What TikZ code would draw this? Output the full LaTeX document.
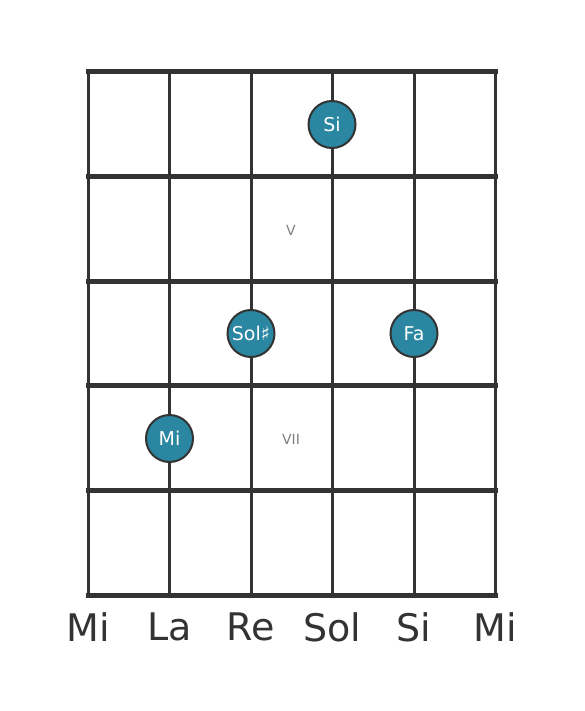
\documentclass[tikz,border=0pt]{standalone}
\usepackage{fontspec}
\setmainfont{DejaVu Sans}
\usepackage{xcolor}
\usetikzlibrary{positioning, calc}

\definecolor{wire}{HTML}{333333}
\definecolor{dotfill}{HTML}{2B86A1}
\definecolor{fretmark}{HTML}{808080}

\tikzset{
    string/.style={draw=wire, line width=3pt},
    fret/.style={draw=wire, line width=5pt},
    notedot/.style={circle, draw=wire, line width=2pt, fill=dotfill, minimum size=47pt, inner sep=0pt,
        text=white, font=\fontsize{19}{19}\selectfont},
    fretnum/.style={text=fretmark, font=\fontsize{14}{14}\selectfont},
    stringname/.style={text=wire, font=\fontsize{38}{38}\selectfont}
}

\begin{document}
\begin{tikzpicture}[x=1pt, y=-1pt]
    \useasboundingbox (0, 0) rectangle (584, 711);

    % strings and frets
    \foreach \i in {0,...,5} {
        \coordinate (s\i t) at (88 + 81.5*\i, 72);
        \coordinate (s\i b) at (88 + 81.5*\i, 595);
    }
    \foreach \j in {0,...,5} {
        \coordinate (f\j l) at (88, 72 + 104.6*\j);
        \coordinate (f\j r) at (495.5, 72 + 104.6*\j);
    }
    \foreach \i in {0,...,5} {
        \draw[string] (s\i t) -- (s\i b);
    }
    \foreach \j in {0,...,5} {
        \draw[fret, line cap=rect] (f\j l) -- (f\j r);
    }

    % fret numbers
    \node[fretnum] (nv) at (291, 230) {V};
    \node[fretnum] (nvii) at (291, 439) {VII};

    % notes
    \node[notedot] (nsi) at (332, 124.5) {Si};
    \node[notedot] (nsol) at (251, 333.5) {Sol♯};
    \node[notedot] (nfa) at (414, 333.5) {Fa};
    \node[notedot] (nmi) at (169.5, 438.5) {Mi};

    % string names
    \foreach \name [count=\i from 0] in {Mi, La, Re, Sol, Si, Mi} {
        \node[stringname] (l\i) at (88 + 81.5*\i, 627) {\name};
    }
\end{tikzpicture}
\end{document}
